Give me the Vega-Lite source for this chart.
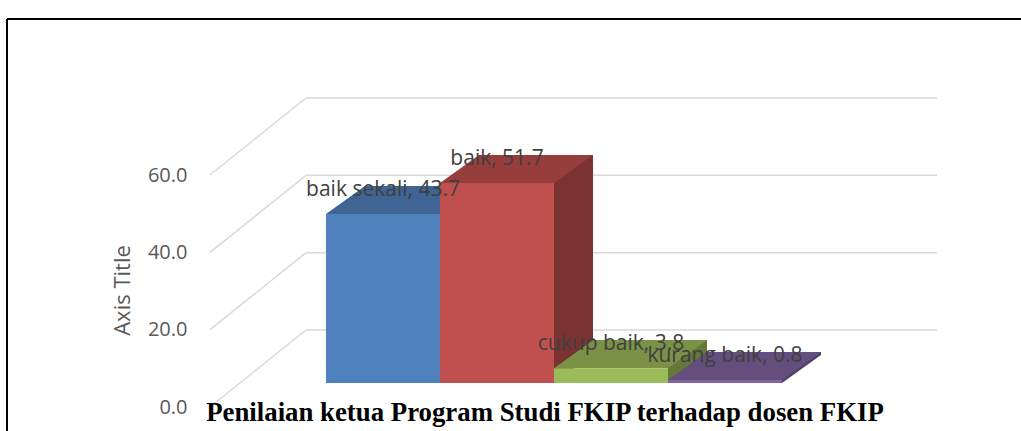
{
  "$schema": "https://vega.github.io/schema/vega-lite/v6.json",
  "width": 1014,
  "height": 412,
  "autosize": {"type": "none"},
  "padding": {"left": 7, "top": 19, "right": 0, "bottom": 0},
  "background": "#ffffff",
  "title": {
    "text": "Penilaian ketua Program Studi FKIP terhadap dosen FKIP",
    "orient": "bottom",
    "frame": "group",
    "anchor": "middle",
    "offset": -11,
    "dx": 31,
    "baseline": "alphabetic",
    "font": "Liberation Serif",
    "fontSize": 26.8,
    "fontWeight": "bold",
    "color": "#000000"
  },
  "data": {
    "values": [
      {"cat": "baik sekali", "v": 43.7},
      {"cat": "baik", "v": 51.7},
      {"cat": "cukup baik", "v": 3.8},
      {"cat": "kurang baik", "v": 0.8}
    ]
  },
  "layer": [
    {
      "data": {"values": [{"v": 0}, {"v": 20}, {"v": 40}, {"v": 60}]},
      "mark": {"type": "rule", "color": "#D9D9D9", "strokeWidth": 1.5, "xOffset": -77, "x2Offset": 212, "yOffset": -53, "y2Offset": -53},
      "encoding": {
        "x": {"datum": "baik sekali", "type": "nominal", "scale": {"domain": ["baik sekali", "baik", "cukup baik", "kurang baik"], "range": [319, 775], "paddingInner": 0, "paddingOuter": 0}, "axis": null},
        "x2": {"datum": "kurang baik"},
        "y": {
          "field": "v", "type": "quantitative",
          "scale": {"domain": [0, 60], "range": [364, 132], "nice": false, "zero": true},
          "axis": {
            "title": "Axis Title",
            "values": [0, 20, 40, 60],
            "format": ".1f",
            "domain": false,
            "ticks": false,
            "grid": false,
            "labelOffset": 24,
            "labelPadding": 0,
            "offset": -180,
            "labelFont": "Open Sans",
            "labelFontSize": 20,
            "labelColor": "#595959",
            "titleFont": "Open Sans",
            "titleFontSize": 22,
            "titleFontWeight": "normal",
            "titleColor": "#595959",
            "titleAngle": 270,
            "titleBaseline": "middle",
            "titleX": -65,
            "titleY": 271
          }
        },
        "y2": {"field": "v"}
      }
    },
    {
      "data": {"values": [{"v": 0}, {"v": 20}, {"v": 40}, {"v": 60}]},
      "mark": {"type": "rule", "color": "#D9D9D9", "strokeWidth": 1.5, "xOffset": -77, "x2Offset": -173, "yOffset": -53, "y2Offset": 24},
      "encoding": {
        "x": {"datum": "baik sekali", "type": "nominal"},
        "x2": {"datum": "baik sekali"},
        "y": {"field": "v", "type": "quantitative"},
        "y2": {"field": "v"}
      }
    },
    {
      "mark": {"type": "bar", "xOffset": 39, "yOffset": -28, "y2Offset": -28},
      "encoding": {
        "x": {"field": "cat", "type": "nominal", "sort": null},
        "y": {"field": "v", "type": "quantitative"},
        "color": {"field": "cat", "type": "nominal", "sort": null, "legend": null,
          "scale": {"domain": ["baik sekali", "baik", "cukup baik", "kurang baik"], "range": ["#335379", "#7B3331", "#637839", "#524068"]}}
      }
    },
    {
      "mark": {"type": "point", "filled": true, "opacity": 1, "strokeWidth": 0, "size": 40000, "shape": "M0.57,-0.28L0.57,0L0.96,-0.28Z"},
      "encoding": {
        "x": {"field": "cat", "type": "nominal", "sort": null},
        "y": {"datum": 0, "type": "quantitative"},
        "color": {"field": "cat", "type": "nominal", "sort": null, "legend": null,
          "scale": {"domain": ["baik sekali", "baik", "cukup baik", "kurang baik"], "range": ["#335379", "#7B3331", "#637839", "#524068"]}}
      }
    },
    {
      "mark": {"type": "point", "filled": true, "opacity": 1, "strokeWidth": 0, "size": 40000, "shape": "M-0.57,0L0.57,0L0.96,-0.28L-0.18,-0.28Z"},
      "encoding": {
        "x": {"field": "cat", "type": "nominal", "sort": null},
        "y": {"field": "v", "type": "quantitative"},
        "color": {"field": "cat", "type": "nominal", "sort": null, "legend": null,
          "scale": {"domain": ["baik sekali", "baik", "cukup baik", "kurang baik"], "range": ["#3E6593", "#963E3C", "#799245", "#644E7E"]}}
      }
    },
    {
      "mark": {"type": "bar"},
      "encoding": {
        "x": {"field": "cat", "type": "nominal", "sort": null},
        "y": {"field": "v", "type": "quantitative"},
        "color": {"field": "cat", "type": "nominal", "sort": null, "legend": null,
          "scale": {"domain": ["baik sekali", "baik", "cukup baik", "kurang baik"], "range": ["#4F81BD", "#C0504D", "#9BBB59", "#8064A2"]}}
      }
    },
    {
      "transform": [{"calculate": "datum.cat + ', ' + format(datum.v, '.1f')", "as": "lab"}],
      "mark": {"type": "text", "font": "Open Sans", "fontSize": 21, "color": "#404040", "dy": -24, "baseline": "middle", "align": "center"},
      "encoding": {
        "x": {"field": "cat", "type": "nominal", "sort": null},
        "y": {"field": "v", "type": "quantitative"},
        "text": {"field": "lab"}
      }
    },
    {
      "mark": {"type": "rule", "color": "#000000", "strokeWidth": 2, "xOffset": -376},
      "encoding": {
        "x": {"datum": "baik sekali", "type": "nominal"}
      }
    },
    {
      "mark": {"type": "rule", "color": "#000000", "strokeWidth": 2, "yOffset": -132},
      "encoding": {
        "y": {"datum": 60, "type": "quantitative"}
      }
    }
  ],
  "resolve": {"scale": {"color": "independent"}},
  "config": {
    "view": {"stroke": null}
  }
}
